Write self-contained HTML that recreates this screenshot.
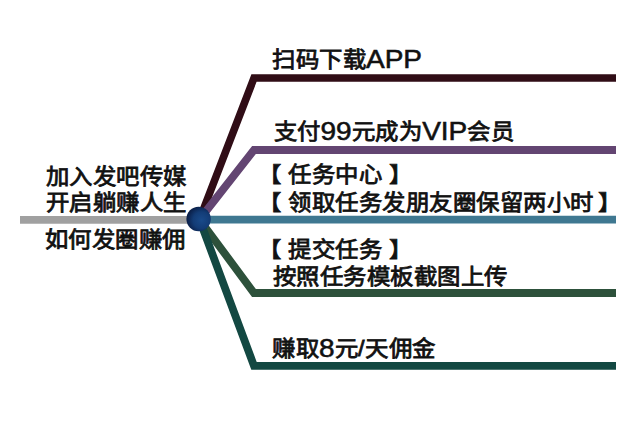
<!DOCTYPE html>
<html lang="zh-CN">
<head>
<meta charset="utf-8">
<style>
html,body{margin:0;padding:0;background:#fff;}
body{width:640px;height:426px;position:relative;overflow:hidden;font-family:"Liberation Sans",sans-serif;color:#111;}
svg{position:absolute;left:0;top:0;}
.t{position:absolute;white-space:nowrap;font-size:23.4px;line-height:30px;letter-spacing:0.5px;-webkit-text-stroke:0.85px #111;transform:scaleY(0.91);transform-origin:0 50%;}
.l{font-size:28px;line-height:0;letter-spacing:0;-webkit-text-stroke:0.6px #111;position:relative;top:1px;}
</style>
</head>
<body>
<svg width="640" height="426" viewBox="0 0 640 426">
  <line x1="20" y1="219.8" x2="199" y2="219.8" stroke="#a0a0a0" stroke-width="7.8"/>
  <line x1="199" y1="219.6" x2="616" y2="219.6" stroke="#3f7891" stroke-width="7.6"/>
  <polyline points="199.5,219.5 254,78 616,78" fill="none" stroke="#300d16" stroke-width="7.6" stroke-linejoin="miter"/>
  <polyline points="199.5,219.5 254,150 616,150" fill="none" stroke="#634572" stroke-width="7.8" stroke-linejoin="miter"/>
  <polyline points="199.5,219.5 254,293 616,293" fill="none" stroke="#2d513b" stroke-width="7.8" stroke-linejoin="miter"/>
  <polyline points="199.5,219.5 254,365.8 616,365.8" fill="none" stroke="#134842" stroke-width="7.8" stroke-linejoin="miter"/>
  <defs><radialGradient id="g" cx="0.62" cy="0.55" r="0.62"><stop offset="0" stop-color="#194a8a"/><stop offset="0.55" stop-color="#133c76"/><stop offset="1" stop-color="#091c44"/></radialGradient></defs>
  <circle cx="198.6" cy="219" r="12.2" fill="url(#g)"/>
</svg>
<div class="t" style="left:45.6px;top:162px;">加入发吧传媒</div>
<div class="t" style="left:45.6px;top:188px;">开启躺赚人生</div>
<div class="t" style="left:44.5px;top:224.5px;">如何发圈赚佣</div>
<div class="t" style="left:272px;top:44.5px;">扫码下载<span class="l">APP</span></div>
<div class="t" style="left:273.5px;top:117px;">支付<span class="l">99</span>元成为<span class="l">VIP</span>会员</div>
<div class="t" style="left:257.6px;top:160px;">【 任务中心 】</div>
<div class="t" style="left:257.6px;top:188px;">【 领取任务发朋友圈保留两小时<span style="margin-left:-2.5px"> 】</span></div>
<div class="t" style="left:257.6px;top:235px;">【 提交任务 】</div>
<div class="t" style="left:272.7px;top:262px;">按照任务模板截图上传</div>
<div class="t" style="left:272px;top:334px;">赚取<span class="l">8</span>元/天佣金</div>
</body>
</html>
